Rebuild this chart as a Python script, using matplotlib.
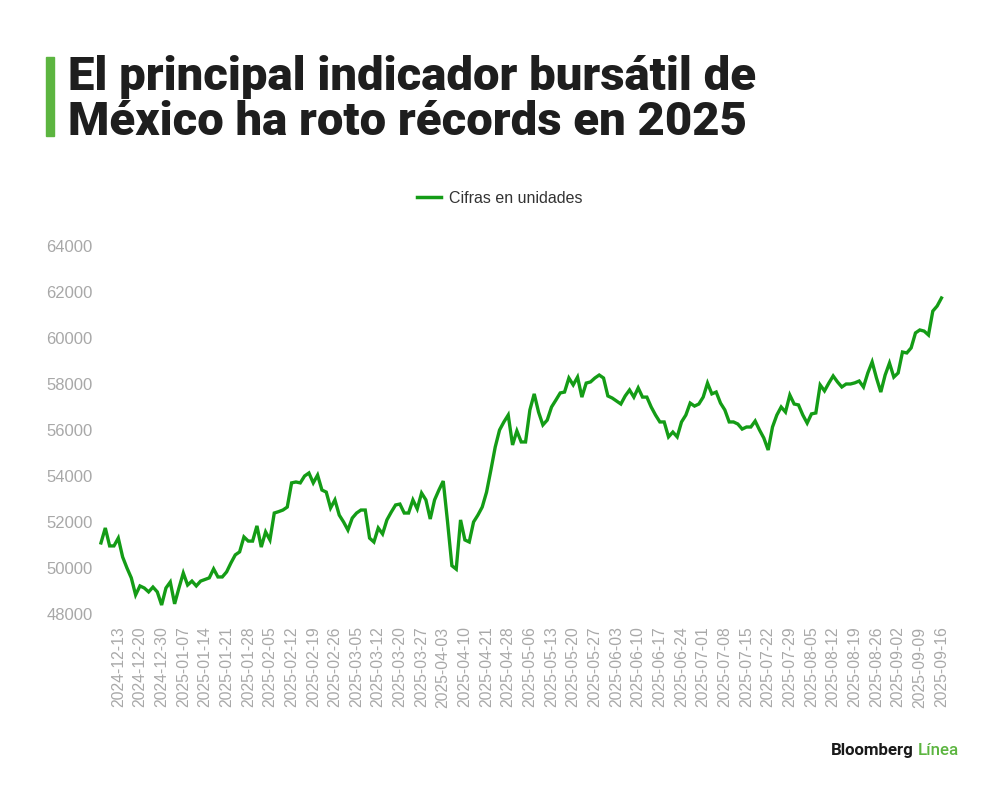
import matplotlib
matplotlib.use("Agg")
import matplotlib.pyplot as plt
from matplotlib.lines import Line2D

# Daily closing values (units)
values = [
    51090, 51740, 50960, 50960, 51300, 50480, 50000, 49570, 48830, 49220,
    49130, 48960, 49170, 48960, 48390, 49130, 49390, 48440, 49130, 49780,
    49260, 49430, 49220, 49430, 49500, 49570, 49960, 49610, 49610, 49830,
    50220, 50570, 50700, 51350, 51170, 51170, 51830, 50910, 51570, 51220,
    52390, 52450, 52520, 52650, 53700, 53740, 53700, 54000, 54130, 53700,
    54040, 53390, 53300, 52610, 52960, 52300, 52000, 51650, 52170, 52390,
    52520, 52520, 51300, 51130, 51740, 51480, 52090, 52430, 52740, 52780,
    52390, 52390, 52960, 52570, 53260, 52960, 52130, 52960, 53390, 53780,
    52000, 50100, 49950, 52090, 51220, 51130, 52000, 52300, 52650, 53300,
    54260, 55260, 56000, 56350, 56650, 55350, 55960, 55480, 55480, 56870,
    57570, 56780, 56220, 56430, 57000, 57300, 57610, 57650, 58260, 57960,
    58300, 57430, 58040, 58090, 58260, 58390, 58260, 57480, 57390, 57260,
    57130, 57480, 57740, 57430, 57830, 57430, 57430, 57000, 56650, 56350,
    56350, 55700, 55910, 55700, 56350, 56650, 57170, 57040, 57130, 57430,
    58040, 57570, 57650, 57170, 56870, 56350, 56350, 56260, 56040, 56130,
    56130, 56390, 56000, 55650, 55130, 56130, 56650, 57000, 56780,
    57520, 57130, 57090, 56650, 56300, 56700, 56740, 57960, 57700, 58040,
    58350, 58090, 57870, 58000, 58000, 58050, 58130, 57870, 58480, 58960,
    58260, 57650, 58390, 58910, 58300, 58480, 59390, 59350, 59570, 60220,
    60350, 60300, 60130, 61170, 61390, 61740,
]

tick_labels = [
    "2024-12-13", "2024-12-20", "2024-12-30", "2025-01-07", "2025-01-14",
    "2025-01-21", "2025-01-28", "2025-02-05", "2025-02-12", "2025-02-19",
    "2025-02-26", "2025-03-05", "2025-03-12", "2025-03-20", "2025-03-27",
    "2025-04-03", "2025-04-10", "2025-04-21", "2025-04-28", "2025-05-06",
    "2025-05-13", "2025-05-20", "2025-05-27", "2025-06-03", "2025-06-10",
    "2025-06-17", "2025-06-24", "2025-07-01", "2025-07-08", "2025-07-15",
    "2025-07-22", "2025-07-29", "2025-08-05", "2025-08-12", "2025-08-19",
    "2025-08-26", "2025-09-02", "2025-09-09", "2025-09-16",
]

y_ticks = [48000, 50000, 52000, 54000, 56000, 58000, 60000, 62000, 64000]

GREEN = "#149c16"
BAR_GREEN = "#5cb540"
GREY = "#a8a8a8"

plt.rcParams["font.family"] = ["Liberation Sans", "DejaVu Sans"]

fig = plt.figure(figsize=(10, 7.9), dpi=100)
ax = fig.add_axes([0.0988, 0.2228, 0.847, 0.4658])

n = len(values)
ax.plot(range(n), values, color=GREEN, lw=2.4, solid_joinstyle="miter")

# one label every 5 trading days, counted back from the last point
tick_pos = list(range(n - 1 - 5 * (len(tick_labels) - 1), n, 5))
ax.set_xticks(tick_pos)
ax.set_xticklabels(tick_labels, rotation=90, fontsize=11.3, color=GREY)
ax.set_yticks(y_ticks)
ax.set_yticklabels([str(v) for v in y_ticks], fontsize=12, color=GREY)
ax.set_xlim(-0.5, n)
ax.set_ylim(48000, 64000)
ax.tick_params(axis="x", length=0, pad=9)
ax.tick_params(axis="y", length=0, pad=4.5)
for s in ax.spines.values():
    s.set_visible(False)

# legend
handle = Line2D([], [], color=GREEN, lw=2.5)
fig.legend([handle], ["Cifras en unidades"], loc="center",
           bbox_to_anchor=(0.5, 0.749), frameon=False, fontsize=11.5,
           handlelength=1.5, handletextpad=0.5, labelcolor="#333333")

# title with green bar
fig.patches.append(plt.Rectangle((0.046, 1 - 136 / 790), 0.008, 79 / 790,
                                 transform=fig.transFigure, color=BAR_GREEN))
fig.text(0.068, 1 - 55 / 790,
         "El principal indicador bursátil de\nMéxico ha roto récords en 2025",
         fontsize=34, fontweight="black", color="#1e1e1e", va="top",
         linespacing=1.03, family=["Roboto", "DejaVu Sans"])

# logo
t = fig.text(0.831, 1 - 755 / 790, "Bloomberg", fontsize=12.2,
             fontweight="bold", color="#1a1a1a", family=["Roboto", "DejaVu Sans"])
ax.annotate("Línea", xy=(1, 0), xycoords=t, xytext=(3, 0),
            textcoords="offset points", fontsize=12.2, color=BAR_GREEN,
            fontweight="medium", va="bottom", annotation_clip=False,
            family=["Roboto", "DejaVu Sans"])

fig.savefig("out.png", dpi=100, facecolor="white")
